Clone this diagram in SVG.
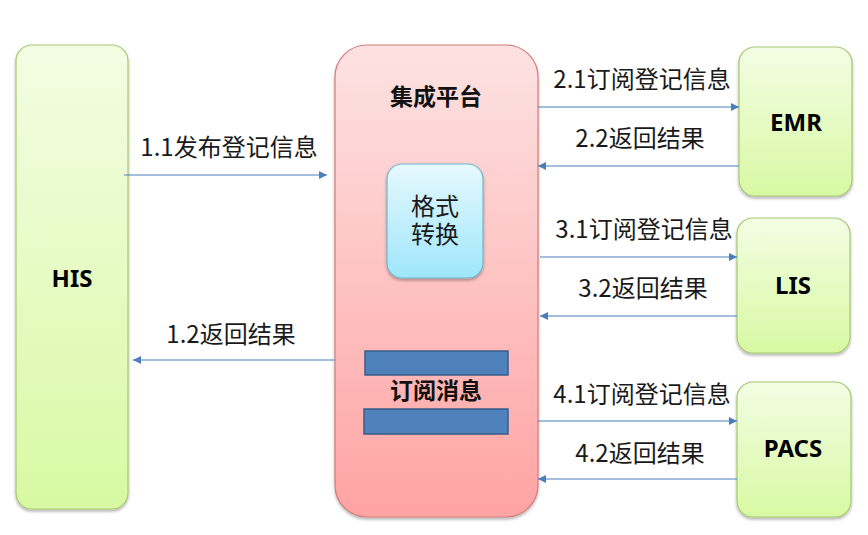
<svg xmlns="http://www.w3.org/2000/svg" width="868" height="535" viewBox="0 0 868 535">
  <defs>
    <linearGradient id="gGreen" x1="0" y1="0" x2="0" y2="1">
      <stop offset="0" stop-color="#f3fde3"/>
      <stop offset="1" stop-color="#d8f9a3"/>
    </linearGradient>
    <linearGradient id="gPink" x1="0" y1="0" x2="0" y2="1">
      <stop offset="0" stop-color="#fde2e2"/>
      <stop offset="1" stop-color="#ffa3a3"/>
    </linearGradient>
    <linearGradient id="gCyan" x1="0" y1="0" x2="0" y2="1">
      <stop offset="0" stop-color="#e6f9fe"/>
      <stop offset="1" stop-color="#9fe6fb"/>
    </linearGradient>
    <filter id="shadow" x="-10%" y="-10%" width="120%" height="120%">
      <feDropShadow dx="0" dy="2" stdDeviation="1.5" flood-color="#000" flood-opacity="0.3"/>
    </filter>
    <marker id="arrow" viewBox="0 0 10 10" refX="10" refY="5" markerWidth="8" markerHeight="8" markerUnits="userSpaceOnUse" orient="auto">
      <path d="M0,0 L10,5 L0,10 Z" fill="#4a7ebb"/>
    </marker>
    <style>
      .sys { fill: url(#gGreen); stroke: #a6c970; stroke-width: 1.2; filter: url(#shadow); }
      .plat { fill: url(#gPink); stroke: #d47a7b; stroke-width: 1.2; filter: url(#shadow); }
      .fmt { fill: url(#gCyan); stroke: #72b6cc; stroke-width: 1.2; filter: url(#shadow); }
      .bar { fill: #4f81bd; stroke: #385d8a; stroke-width: 1.5; }
      .conn { stroke: #4a7ebb; stroke-width: 1.2; fill: none; marker-end: url(#arrow); }
      .lbl { font-family: "Noto Sans CJK SC", "Noto Sans", sans-serif; font-size: 24px; fill: #1a1a1a; text-anchor: middle; }
      .name { font-family: "Noto Sans", "Noto Sans CJK SC", sans-serif; font-size: 24px; font-weight: bold; fill: #000; text-anchor: middle; }
      .title { font-family: "Noto Sans CJK SC", sans-serif; font-size: 23px; font-weight: bold; fill: #111; text-anchor: middle; }
    </style>
  </defs>
  <rect width="868" height="535" fill="#ffffff"/>

  <g id="HIS">
    <rect class="sys" x="16" y="45" width="112" height="464" rx="16"/>
    <text class="name" x="72" y="287">HIS</text>
  </g>

  <g id="platform">
    <rect class="plat" x="335" y="45" width="203" height="472" rx="32"/>
    <text class="title" x="436" y="105">集成平台</text>
  </g>

  <g id="format">
    <rect class="fmt" x="387" y="164" width="96" height="114" rx="15"/>
    <text class="lbl" x="435" y="215">格式<tspan x="435" dy="28">转换</tspan></text>
  </g>

  <g id="queue">
    <rect class="bar" x="365" y="351" width="143" height="24"/>
    <rect class="bar" x="364" y="409" width="144" height="25"/>
    <text class="title" x="436" y="399">订阅消息</text>
  </g>

  <g id="EMR">
    <rect class="sys" x="739" y="47" width="113" height="149" rx="16"/>
    <text class="name" x="796" y="131">EMR</text>
  </g>

  <g id="LIS">
    <rect class="sys" x="737" y="218" width="113" height="135" rx="16"/>
    <text class="name" x="793" y="294">LIS</text>
  </g>

  <g id="PACS">
    <rect class="sys" x="737" y="382" width="114" height="135" rx="16"/>
    <text class="name" x="793" y="457">PACS</text>
  </g>

  <g id="connectors">
    <line class="conn" x1="124" y1="175" x2="327" y2="175"/>
    <line class="conn" x1="335" y1="360" x2="133" y2="360"/>
    <line class="conn" x1="538" y1="107" x2="739" y2="107"/>
    <line class="conn" x1="739" y1="166" x2="538" y2="166"/>
    <line class="conn" x1="540" y1="257" x2="737" y2="257"/>
    <line class="conn" x1="737" y1="316" x2="540" y2="316"/>
    <line class="conn" x1="538" y1="421" x2="737" y2="421"/>
    <line class="conn" x1="737" y1="479" x2="538" y2="479"/>
  </g>

  <g id="labels">
    <text class="lbl" x="229" y="156">1.1发布登记信息</text>
    <text class="lbl" x="231" y="343">1.2返回结果</text>
    <text class="lbl" x="642" y="88">2.1订阅登记信息</text>
    <text class="lbl" x="640" y="147">2.2返回结果</text>
    <text class="lbl" x="644" y="238">3.1订阅登记信息</text>
    <text class="lbl" x="643" y="297">3.2返回结果</text>
    <text class="lbl" x="642" y="403">4.1订阅登记信息</text>
    <text class="lbl" x="640" y="462">4.2返回结果</text>
  </g>
</svg>
